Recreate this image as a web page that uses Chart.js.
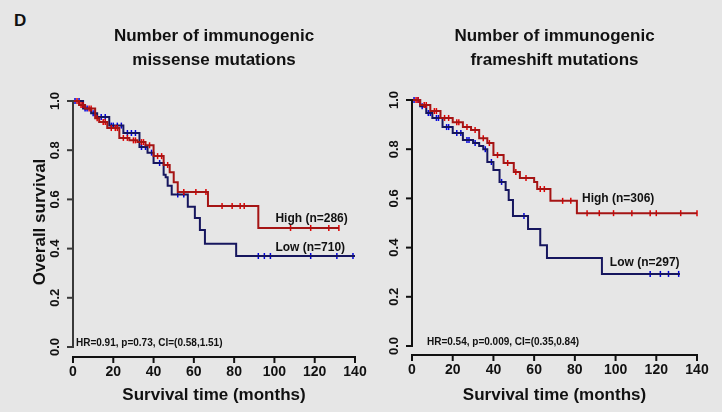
<!DOCTYPE html>
<html>
<head>
<meta charset="utf-8">
<title>Survival by immunogenic mutations</title>
<script src="https://cdn.jsdelivr.net/npm/chart.js@4.4.1/dist/chart.umd.min.js"></script>
<style>
  html, body { margin: 0; padding: 0; background: #e6e6e6; }
  #wrap { position: relative; width: 722px; height: 412px; overflow: hidden; }
  canvas { position: absolute; top: 0; }
  #c1 { left: 0; }
  #c2 { left: 361px; }
  #panel { position: absolute; left: 14px; top: 11px; font: bold 17px "Liberation Sans", Arial, sans-serif; color: #111; }
</style>
</head>
<body>
<div id="wrap">
  <div id="panel">D</div>
  <canvas id="c1" width="400" height="412"></canvas>
  <canvas id="c2" width="361" height="412"></canvas>
</div>
<script>
// Axis ticks
const xTicks = [0, 20, 40, 60, 80, 100, 120, 140];
const yTicks = [0.0, 0.2, 0.4, 0.6, 0.8, 1.0];

// Missense: High (n=286)
const misHighTime = [0, 3, 6, 11, 13, 17, 23, 28, 32, 36, 40, 45, 48, 50, 52, 67, 92, 132];
const misHighSurv = [1.0, 0.984, 0.97, 0.93, 0.915, 0.89, 0.85, 0.84, 0.833, 0.82, 0.776, 0.74, 0.71, 0.67, 0.63, 0.573, 0.484, 0.484];
const misHighCens = [2, 4, 5, 8, 9, 12, 15, 16, 19, 21, 22, 25, 27, 30, 31, 34, 35, 38, 42, 44, 47, 55, 61, 66, 74, 79, 83, 85, 108, 118, 127, 132];

// Missense: Low (n=710)
const misLowTime = [0, 5, 9, 12, 18, 25, 33, 37, 40, 45, 46, 47, 49, 57, 60.5, 63, 65.5, 81, 140];
const misLowSurv = [1.0, 0.97, 0.95, 0.935, 0.90, 0.87, 0.813, 0.79, 0.748, 0.70, 0.69, 0.655, 0.62, 0.57, 0.524, 0.476, 0.42, 0.37, 0.37];
const misLowCens = [1, 3, 6, 7, 10, 11, 14, 16, 19, 20, 22, 24, 27, 29, 31, 34, 36, 39, 43, 52, 55, 92, 95, 98, 118, 131, 139];

// Frameshift: High (n=306)
const frHighTime = [0, 4, 9, 14, 20, 25, 29, 33, 37, 40, 45, 50, 53, 60, 61.5, 68, 81, 140];
const frHighSurv = [1.0, 0.98, 0.955, 0.927, 0.91, 0.89, 0.878, 0.845, 0.825, 0.776, 0.744, 0.707, 0.683, 0.667, 0.638, 0.59, 0.54, 0.54];
const frHighCens = [2, 3, 6, 7, 11, 12, 16, 18, 22, 23, 27, 31, 35, 38, 42, 47, 51, 56, 63, 65, 74, 78, 86, 92, 99, 108, 117, 120, 132, 140];

// Frameshift: Low (n=297)
const frLowTime = [0, 4, 7, 10, 15, 20, 25, 30, 33, 35, 37, 40, 43, 46, 47.5, 49.6, 57, 63, 66.3, 93.3, 131.6];
const frLowSurv = [1.0, 0.975, 0.947, 0.927, 0.89, 0.866, 0.837, 0.825, 0.813, 0.80, 0.748, 0.715, 0.667, 0.634, 0.593, 0.528, 0.476, 0.41, 0.358, 0.293, 0.293];
const frLowCens = [1, 3, 5, 8, 9, 12, 13, 17, 18, 22, 24, 27, 28, 31, 36, 39, 44, 55, 117, 122, 126, 131];

const highLine = '#a51414', highMark = '#e00000';
const lowLine = '#16165e', lowMark = '#0000dc';
const font = '"Liberation Sans", Arial, sans-serif';

function km(times, surv) {
  return times.map((t, i) => ({ x: t, y: surv[i] }));
}

// survival value at time t for censor ticks
function stepAt(times, surv, t) {
  let s = surv[0];
  for (let i = 0; i < times.length; i++) {
    if (times[i] <= t) s = surv[i];
  }
  return s;
}

function censored(times, surv, cens) {
  return cens.map(t => ({ x: t, y: stepAt(times, surv, t) }));
}

function curveSets(times, surv, cens, line, mark) {
  return [
    {
      // 'before' in Chart.js draws horizontal first, then the drop: KM style
      data: km(times, surv), showLine: true, stepped: 'before',
      borderColor: line, borderWidth: 2, pointRadius: 0, clip: false
    },
    {
      data: censored(times, surv, cens), showLine: false,
      pointStyle: 'line', rotation: 90, pointRadius: 3,
      pointBorderColor: mark, pointBorderWidth: 1.5, clip: false
    }
  ];
}

// Prism-like offset axes plus texts
const frame = {
  id: 'frame',
  afterDraw(chart, args, o) {
    const { ctx, scales: { x, y } } = chart;
    const x0 = x.getPixelForValue(0);
    const x1 = x.getPixelForValue(140);
    const yTop = y.getPixelForValue(1);
    const yBot = y.getPixelForValue(0);
    const ax = yBot + o.xGap;
    const mid = (x0 + x1) / 2;
    ctx.save();
    ctx.fillStyle = '#111';
    ctx.lineCap = 'butt';

    // y axis
    ctx.strokeStyle = o.yColor;
    ctx.lineWidth = 2;
    ctx.beginPath();
    ctx.moveTo(x0, yTop - 1);
    ctx.lineTo(x0, yBot + 1);
    ctx.stroke();
    ctx.font = 'bold 13px ' + font;
    ctx.textAlign = 'center';
    ctx.textBaseline = 'middle';
    yTicks.forEach(v => {
      const py = y.getPixelForValue(v);
      ctx.beginPath();
      ctx.moveTo(x0 - 6, py);
      ctx.lineTo(x0, py);
      ctx.stroke();
      ctx.save();
      ctx.translate(x0 - 18, py);
      ctx.rotate(-Math.PI / 2);
      ctx.fillText(v.toFixed(1), 0, 0);
      ctx.restore();
    });

    // x axis
    ctx.strokeStyle = '#111';
    ctx.beginPath();
    ctx.moveTo(x0 - 1, ax);
    ctx.lineTo(x1 + 1, ax);
    ctx.stroke();
    ctx.font = 'bold 14px ' + font;
    xTicks.forEach(v => {
      const px = x.getPixelForValue(v);
      ctx.beginPath();
      ctx.moveTo(px, ax);
      ctx.lineTo(px, ax + 6);
      ctx.stroke();
      ctx.fillText(String(v), px, ax + 15);
    });

    // axis titles
    ctx.font = 'bold 17px ' + font;
    ctx.fillText('Survival time (months)', mid, 395);
    if (o.yTitle) {
      ctx.save();
      ctx.translate(40, (yTop + yBot) / 2 - 2);
      ctx.rotate(-Math.PI / 2);
      ctx.fillText(o.yTitle, 0, 0);
      ctx.restore();
    }

    // chart title
    o.title.forEach((line, i) => ctx.fillText(line, mid, 36 + i * 24));

    // stats
    ctx.font = 'bold 10px ' + font;
    ctx.textAlign = 'left';
    ctx.fillText(o.stats, x0 + o.statsDx, yBot - 4);

    // group labels
    ctx.font = 'bold 12px ' + font;
    o.labels.forEach(l => {
      ctx.fillText(l.text, x.getPixelForValue(l.t), y.getPixelForValue(l.s));
    });
    ctx.restore();
  }
};

function makeChart(id, sets, opts) {
  return new Chart(document.getElementById(id), {
    type: 'scatter',
    data: { datasets: sets },
    options: {
      responsive: false,
      animation: false,
      events: [],
      layout: { padding: opts.pad },
      scales: {
        x: { type: 'linear', min: 0, max: 140, display: false },
        y: { type: 'linear', min: 0, max: 1, display: false }
      },
      plugins: { legend: { display: false }, tooltip: { enabled: false }, frame: opts }
    },
    plugins: [frame]
  });
}

makeChart('c1',
  [...curveSets(misHighTime, misHighSurv, misHighCens, highLine, highMark),
   ...curveSets(misLowTime, misLowSurv, misLowCens, lowLine, lowMark)],
  {
    pad: { left: 73, right: 45, top: 101, bottom: 65 },
    yColor: '#3a3a3a', xGap: 10,
    title: ['Number of immunogenic', 'missense mutations'],
    yTitle: 'Overall survival',
    stats: 'HR=0.91, p=0.73, CI=(0.58,1.51)', statsDx: 3,
    labels: [
      { text: 'High (n=286)', t: 100.5, s: 0.522 },
      { text: 'Low (n=710)', t: 100.5, s: 0.405 }
    ]
  });

makeChart('c2',
  [...curveSets(frHighTime, frHighSurv, frHighCens, highLine, highMark),
   ...curveSets(frLowTime, frLowSurv, frLowCens, lowLine, lowMark)],
  {
    pad: { left: 51, right: 25, top: 100, bottom: 66 },
    yColor: '#111', xGap: 9,
    title: ['Number of immunogenic', 'frameshift mutations'],
    yTitle: null,
    stats: 'HR=0.54, p=0.009, CI=(0.35,0.84)', statsDx: 15,
    labels: [
      { text: 'High (n=306)', t: 83.5, s: 0.598 },
      { text: 'Low (n=297)', t: 97.2, s: 0.337 }
    ]
  });
</script>
</body>
</html>
